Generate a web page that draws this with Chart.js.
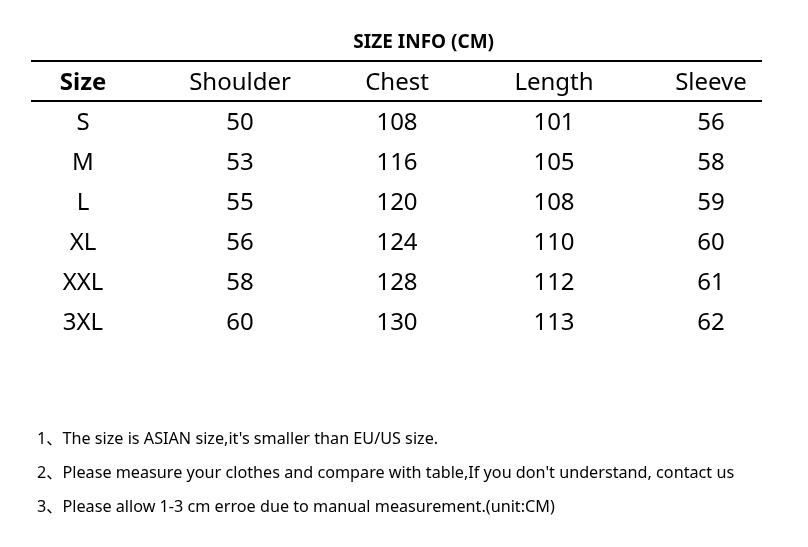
<!DOCTYPE html>
<html>
<head>
<meta charset="utf-8">
<script src="https://cdn.jsdelivr.net/npm/chart.js@4/dist/chart.umd.min.js"></script>
<style>
  html, body { margin: 0; padding: 0; background: #fff; }
  #wrap { width: 808px; height: 547px; }
</style>
</head>
<body>
<div id="wrap"><canvas id="sizeChart" width="808" height="547"></canvas></div>
<script>
// table data
const title = 'SIZE INFO (CM)';
const columns = ['Size', 'Shoulder', 'Chest', 'Length', 'Sleeve'];
const sizes = ['S', 'M', 'L', 'XL', 'XXL', '3XL'];
const shoulder = [50, 53, 55, 56, 58, 60];
const chest = [108, 116, 120, 124, 128, 130];
const length = [101, 105, 108, 110, 112, 113];
const sleeve = [56, 58, 59, 60, 61, 62];
const notes = [
  '1、The size is ASIAN size,it\'s smaller than EU/US size.',
  '2、Please measure your clothes and compare with table,If you don\'t understand, contact us',
  '3、Please allow 1-3 cm erroe due to manual measurement.(unit:CM)'
];

const FONT = '"Segoe UI", "Noto Sans", "Noto Sans CJK SC", sans-serif';
const columnValues = [sizes, shoulder, chest, length, sleeve];

// one dataset per column, header on row 0, values on rows 1..n
const datasets = columns.map((name, c) => ({
  label: name,
  data: [{ x: c, y: 0, t: name }].concat(
    columnValues[c].map((v, r) => ({ x: c, y: r + 1, t: String(v) }))
  ),
  pointRadius: 0,
  pointHoverRadius: 0
}));

const tablePlugin = {
  id: 'tablePlugin',
  afterDatasetsDraw(chart) {
    const ctx = chart.ctx;
    const xs = chart.scales.x;
    const ys = chart.scales.y;
    ctx.save();
    ctx.fillStyle = '#000';
    ctx.textAlign = 'center';
    ctx.textBaseline = 'alphabetic';

    // title
    ctx.font = 'bold 19px ' + FONT;
    ctx.fillText(title, xs.getPixelForValue(2.17), ys.getPixelForValue(-1) + 7);

    // rules above and below header
    const left = xs.getPixelForValue(-0.331);
    const right = xs.getPixelForValue(4.325);
    ctx.strokeStyle = '#000';
    ctx.lineWidth = 2;
    [-0.5, 0.5].forEach(r => {
      const y = Math.round(ys.getPixelForValue(r));
      ctx.beginPath();
      ctx.moveTo(left, y);
      ctx.lineTo(right, y);
      ctx.stroke();
    });

    // cells
    chart.data.datasets.forEach((ds, i) => {
      const meta = chart.getDatasetMeta(i);
      meta.data.forEach((pt, j) => {
        const bold = j === 0 && i === 0;
        ctx.font = (bold ? 'bold ' : '') + '24px ' + FONT;
        ctx.fillText(ds.data[j].t, pt.x, pt.y + 9);
      });
    });

    // notes
    ctx.textAlign = 'left';
    ctx.font = '16.2px ' + FONT;
    notes.forEach((n, i) => {
      ctx.fillText(n, xs.getPixelForValue(-0.293), ys.getPixelForValue(8.9 + i * 0.85) + 7);
    });
    ctx.restore();
  }
};

new Chart(document.getElementById('sizeChart'), {
  type: 'scatter',
  data: { datasets: datasets },
  options: {
    responsive: false,
    animation: false,
    devicePixelRatio: 1,
    layout: { padding: 0 },
    plugins: { legend: { display: false }, tooltip: { enabled: false } },
    scales: {
      x: { type: 'linear', display: false, min: -0.5287, max: 4.6178 },
      y: { type: 'linear', display: false, reverse: true, min: -2.025, max: 11.65 }
    }
  },
  plugins: [tablePlugin]
});
</script>
</body>
</html>
